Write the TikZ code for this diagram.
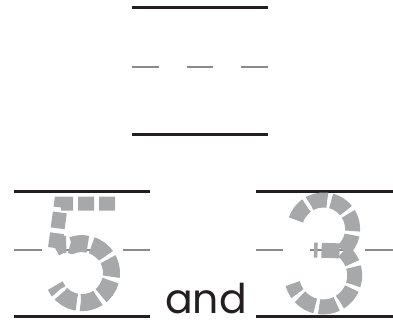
\documentclass[tikz,border=0pt]{standalone}
\usepackage{fontspec}
\setmainfont{Poppins}
\definecolor{ink}{HTML}{231F20}
\definecolor{midgray}{HTML}{8A8A8C}
\definecolor{digitgray}{HTML}{A7A8AA}
\begin{document}
\begin{tikzpicture}[x=1pt,y=-1pt,
  rule/.style={draw=ink,line width=3pt},
  midrule/.style={draw=midgray,line width=2.5pt},
  digit/.style={draw=digitgray,line width=#1,dash pattern=on 18pt off 4pt,line cap=butt,line join=miter},
  digit/.default=15pt]
\useasboundingbox (0,0) rectangle (393,321);
% top guide
\draw[rule] (132,8) -- (268,8);
\draw[midrule] (132,67) -- (159,67);
\draw[midrule] (187,67) -- (213,67);
\draw[midrule] (241,67) -- (268,67);
\draw[rule] (132,134) -- (268,134);
% left guide
\draw[rule] (14,191) -- (150,191);
\draw[midrule] (14,250) -- (42,250);
\draw[midrule] (66,250) -- (102,250);
\draw[midrule] (123,250) -- (150,250);
\draw[rule] (14,316.5) -- (150,316.5);
% right guide
\draw[rule] (256,191) -- (393,191);
\draw[midrule] (256,250) -- (283,250);
\draw[midrule] (310,250) -- (347,250);
\draw[midrule] (365,250) -- (393,250);
\draw[rule] (256,316.5) -- (393,316.5);
% digit 5
\draw[digit=14pt,dash pattern=on 16pt off 5pt] (115,203.5) -- (61,203.5) -- (55,248);
\draw[digit=17pt,dash phase=6pt] (55,248) .. controls (62,244) and (66,243) .. (71.9,245.4) arc[start angle=-110,end angle=155,radius=29.5];
% digit 3
\draw[digit=15pt] (296,220) arc[start angle=-162,end angle=40,radius=29] -- (343,251) -- (314,250);
\draw[digit=15pt,dash phase=3pt] (343.4,251.3) arc[start angle=-50,end angle=165,radius=31.5];
% word
\node[anchor=base west,inner sep=0pt,text=ink,font=\fontsize{41}{41}\selectfont] (word) at (165,313.5) {and};
\end{tikzpicture}
\end{document}
